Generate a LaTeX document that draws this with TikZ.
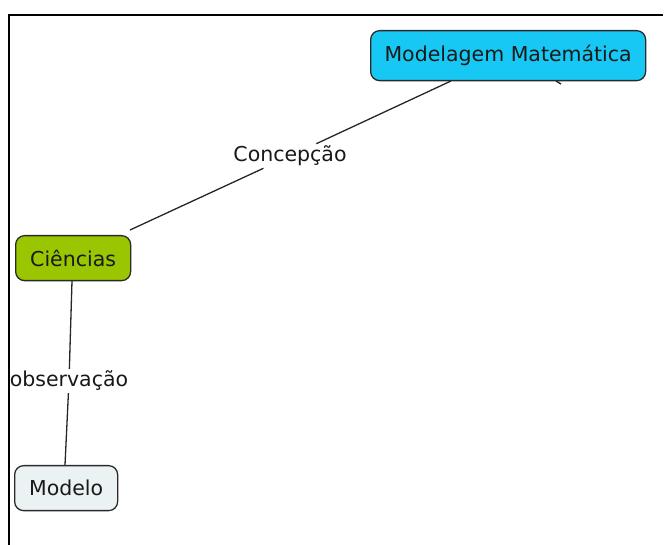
\documentclass[tikz,border=0pt]{standalone}
\usepackage{fontspec}
\setmainfont{DejaVu Sans}
\definecolor{conceptcyan}{HTML}{18C8F4}
\definecolor{conceptgreen}{HTML}{99C600}
\definecolor{conceptpale}{HTML}{EAF2F4}
\definecolor{edgegray}{HTML}{2A2A2A}
\begin{document}
\begin{tikzpicture}[x=1pt,y=-1pt,
  concept/.style={draw=edgegray, line width=1.3pt, rounded corners=9pt, inner sep=0pt,
    font=\fontsize{20.5}{23}\selectfont, text=black!90, anchor=north west},
  link/.style={draw=black!85, line width=1.3pt},
  linklabel/.style={fill=white, inner sep=2pt, font=\fontsize{20.5}{23}\selectfont, text=black!90}
]
\useasboundingbox (0,0) rectangle (665,545);

% concepts
\node[concept, fill=conceptcyan, minimum width=275pt, minimum height=50pt] (mm) at (370,30) {Modelagem Matemática};
\node[concept, fill=conceptgreen, minimum width=115pt, minimum height=45pt] (ci) at (15,235) {Ciências};
\node[concept, fill=conceptpale, minimum width=103pt, minimum height=45pt] (mo) at (14,465) {Modelo};

% linking phrases
\node[linklabel] (concep) at (290,156) {Concepção};
\node[linklabel] (obs) at (69,381) {observação};

% connectors
\coordinate (mmA) at (451,81);
\coordinate (ciA) at (130,230);
\draw[link] (mmA) -- (concep);
\draw[link] (concep) -- (ciA);
\coordinate (ciB) at (72,281);
\coordinate (moB) at (65,465);
\draw[link] (ciB) -- (obs);
\draw[link] (obs) -- (moB);
% short stub under the top concept
\coordinate (stubA) at (556,81);
\coordinate (stubB) at (561,84);
\draw[link, line width=1.4pt] (stubA) -- (stubB);

% frame (top and left edges), drawn over the label backgrounds
\draw[line width=1.6pt] (663,15) -- (9,15) -- (9,545);
\end{tikzpicture}
\end{document}
